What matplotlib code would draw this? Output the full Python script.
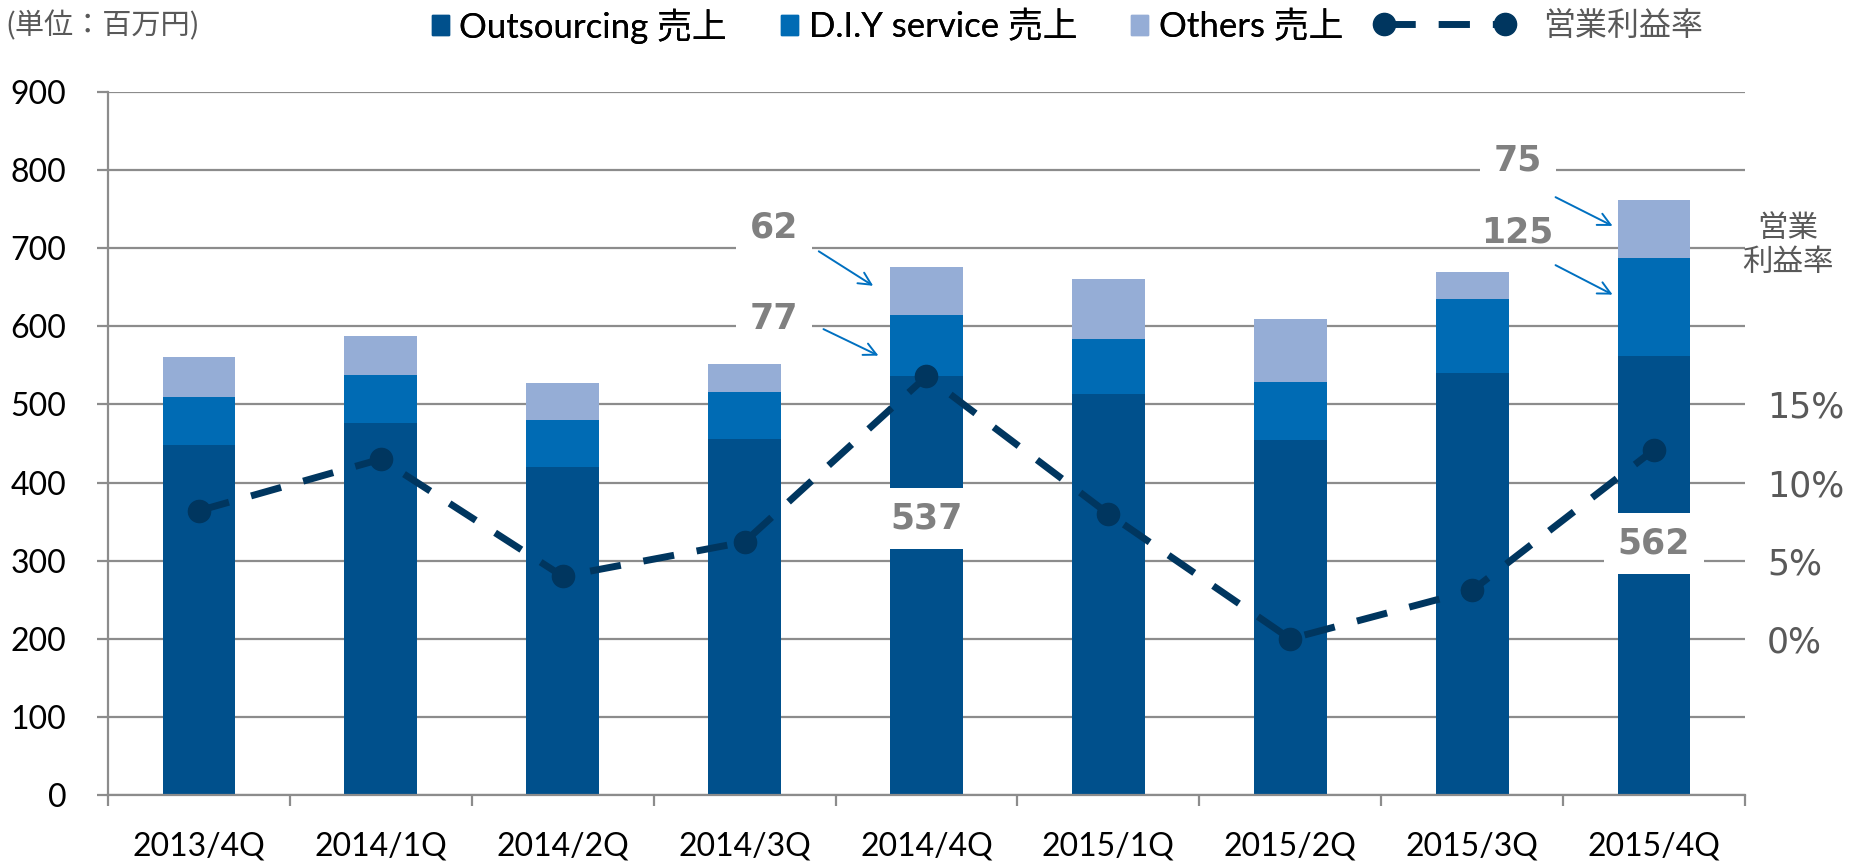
import numpy as np
import matplotlib
matplotlib.use('Agg')
import matplotlib.pyplot as plt
from matplotlib.patches import Patch
from matplotlib.lines import Line2D

# values (百万円 / %)
quarters = ['2013/4Q', '2014/1Q', '2014/2Q', '2014/3Q', '2014/4Q',
            '2015/1Q', '2015/2Q', '2015/3Q', '2015/4Q']
outsourcing = [448, 476, 420, 456, 537, 514, 455, 540, 562]
diy = [62, 62, 60, 60, 77, 70, 74, 95, 125]
others = [51, 50, 48, 36, 62, 76, 80, 35, 75]
margin = [8.2, 11.5, 4.0, 6.2, 16.8, 8.0, 0.0, 3.1, 12.1]

C_OUT = '#00508C'
C_DIY = '#006BB4'
C_OTH = '#95ADD6'
C_LINE = '#00365F'
C_GRID = '#8C8C8C'
C_LBL = '#808080'

FONT = ['Lato', 'Noto Sans CJK JP', 'DejaVu Sans']
JP = ['Noto Sans CJK JP', 'DejaVu Sans']

fig = plt.figure(figsize=(18.52, 8.65), dpi=100)
ax = fig.add_axes([0.0583, 0.0809, 0.8839, 0.8127])

x = np.arange(len(quarters))
w = 0.4
out = np.array(outsourcing)
d = np.array(diy)
o = np.array(others)
ax.bar(x, out, w, color=C_OUT, zorder=2, linewidth=0)
ax.bar(x, d, w, bottom=out, color=C_DIY, zorder=2, linewidth=0)
ax.bar(x, o, w, bottom=out + d, color=C_OTH, zorder=2, linewidth=0)

ax.set_xlim(-0.5, len(quarters) - 0.5)
ax.set_ylim(0, 900)
ax.set_yticks(range(0, 901, 100))
ax.yaxis.grid(True, color=C_GRID, linewidth=1.6, zorder=0)
ax.set_axisbelow(True)
for s in ['top', 'right']:
    ax.spines[s].set_visible(False)
for s in ['left', 'bottom']:
    ax.spines[s].set_color(C_GRID)
    ax.spines[s].set_linewidth(1.6)
ax.tick_params(axis='y', length=8, width=1.6, color=C_GRID, pad=22,
               labelsize=23, labelcolor='black')
ax.set_xticks(x)
ax.set_xticklabels(quarters)
ax.set_xticks(np.arange(-0.5, len(quarters), 1.0), minor=True)
ax.tick_params(axis='x', which='major', length=0, pad=26, labelsize=23)
ax.tick_params(axis='x', which='minor', length=8, width=1.6, color=C_GRID)
for lab in ax.get_xticklabels() + ax.get_yticklabels():
    lab.set_family(FONT)

# operating margin on the secondary axis
ax2 = ax.twinx()
ax2.set_ylim(-10, 35)
ax2.set_yticks([0, 5, 10, 15])
ax2.set_yticklabels(['%d%%' % v for v in [0, 5, 10, 15]])
ax2.tick_params(axis='y', length=0, pad=16, labelsize=25, labelcolor='#595959')
for s in ax2.spines.values():
    s.set_visible(False)
ln, = ax2.plot(x, margin, color=C_LINE, linewidth=5, marker='o', markersize=16,
               linestyle='--', zorder=3)
ln.set_dashes([4.5, 3.3])

# value call-outs
box = dict(boxstyle='square,pad=0.4', fc='white', ec='none')
lbl = dict(fontsize=25, fontweight='bold', color=C_LBL, ha='center', va='center',
           family='DejaVu Sans', zorder=5)
ax.text(4, 354, str(outsourcing[4]), bbox=box, **lbl)
ax.text(8, 322, str(outsourcing[8]), bbox=box, **lbl)
ax.text(3.16, 727, str(others[4]), bbox=box, **lbl)
ax.text(3.16, 609, str(diy[4]), bbox=box, **lbl)
ax.text(7.25, 812, str(others[8]), bbox=box, **lbl)
ax.text(7.25, 720, str(diy[8]), **lbl)

arw = dict(arrowstyle='->,head_length=0.9,head_width=0.45', color='#0070C0', lw=1.4)
ax.annotate('', xy=(3.72, 650), xytext=(3.395, 698), arrowprops=arw, zorder=5)
ax.annotate('', xy=(3.75, 561), xytext=(3.42, 598), arrowprops=arw, zorder=5)
ax.annotate('', xy=(7.786, 727), xytext=(7.445, 767), arrowprops=arw, zorder=5)
ax.annotate('', xy=(7.786, 639), xytext=(7.445, 680), arrowprops=arw, zorder=5)

fig.text(0.9655, 0.716, '営業\n利益率', fontsize=22, color='#595959',
         ha='center', va='center', family=JP, linespacing=1.1)
fig.text(0.003, 0.97, '(単位：百万円)', fontsize=21, color='#595959',
         ha='left', va='center', family=JP)

# legends
patches = [Patch(color=C_OUT, label='Outsourcing 売上'),
           Patch(color=C_DIY, label='D.I.Y service 売上'),
           Patch(color=C_OTH, label='Others 売上')]
leg1 = fig.legend(handles=patches, loc='center left', bbox_to_anchor=(0.233, 0.97),
                  ncol=3, frameon=False, prop={'family': FONT, 'size': 25},
                  handlelength=0.5, handleheight=0.5, handletextpad=0.3,
                  columnspacing=1.55, borderpad=0, borderaxespad=0)
fig.add_artist(leg1)
lh = Line2D([], [], color=C_LINE, linewidth=5, marker='o', markersize=16,
            linestyle='--', dashes=[4.5, 3.3])
leg2 = fig.legend(handles=[lh], labels=['営業利益率'], loc='center left',
                  bbox_to_anchor=(0.742, 0.97), frameon=False, numpoints=2,
                  prop={'family': JP, 'size': 23}, handlelength=4.4,
                  handletextpad=0.9, borderpad=0, borderaxespad=0)
for t in leg2.get_texts():
    t.set_color('#595959')

fig.savefig('out.png', dpi=100)
